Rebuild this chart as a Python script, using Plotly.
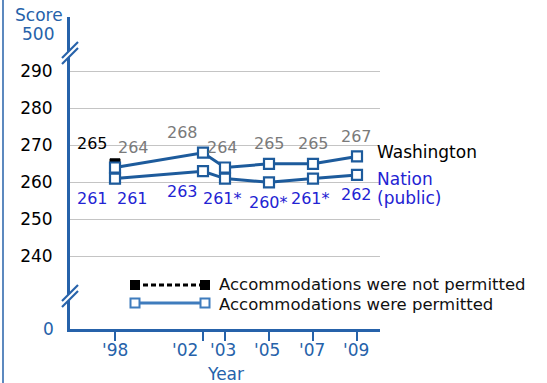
import plotly.graph_objects as go

# NAEP scores, Washington vs. Nation (public)
years = [1998, 2002, 2003, 2005, 2007, 2009]
year_labels = ["'98", "'02", "'03", "'05", "'07", "'09"]
wa_permitted = [264, 268, 264, 265, 265, 267]
nat_permitted = [261, 263, 261, 260, 261, 262]
# significance flags for the Nation series
nat_flags = ["", "", "*", "*", "*", ""]
# 1998 results where accommodations were not permitted
np_year = [1998]
wa_not_permitted = [265]
nat_not_permitted = [261]
y_ticks = [240, 250, 260, 270, 280, 290]

W, H = 547, 383
L, R, T, B = 70, 380, 17, 329          # plot area in pixels
FONT = "DejaVu Sans"
AXIS_BLUE = "#2662aa"
LINE_BLUE = "#1d5b9c"
NAT_TEXT = "#2323d3"
GREY_TEXT = "#7a7a7a"

X_RANGE = [1998 - (115 - L) / 22.0, 1998 - (115 - L) / 22.0 + (R - L) / 22.0]
Y_RANGE = [220.35, 304.68]


def px(x):
    return (x - L) / (R - L)


def py(y):
    return (B - y) / (B - T)


fig = go.Figure()

marker_open = dict(symbol="square", size=10, color="white",
                   line=dict(color=LINE_BLUE, width=2.2))
marker_black = dict(symbol="square", size=10, color="black",
                    line=dict(color="black", width=1))

# not-permitted points first so the permitted markers sit on top
for vals in (wa_not_permitted, nat_not_permitted):
    fig.add_trace(go.Scatter(x=np_year, y=vals, mode="markers",
                             marker=marker_black, showlegend=False,
                             cliponaxis=False, hoverinfo="skip"))

for vals in (wa_permitted, nat_permitted):
    fig.add_trace(go.Scatter(x=years, y=vals, mode="lines+markers",
                             line=dict(color=LINE_BLUE, width=3),
                             marker=marker_open, showlegend=False,
                             cliponaxis=False, hoverinfo="skip"))

annotations = []
label_font = dict(family=FONT, size=17)
value_font = dict(family=FONT, size=16)
legend_font = dict(family=FONT, size=16.5)


def note(x, y, text, color, xref="paper", yref="paper", xanchor="center",
         xshift=0, yshift=0, font=label_font):
    return dict(x=x, y=y, xref=xref, yref=yref, text=text, showarrow=False,
                xanchor=xanchor, yanchor="middle", xshift=xshift, yshift=yshift,
                font=dict(font, color=color))


# value labels above Washington, below Nation
wa_dx = [18, -21, -3, 0, 0, -1]
nat_dx = [17, -21, -3, -1, -3, -1]
for yr, v, dx in zip(years, wa_permitted, wa_dx):
    annotations.append(note(yr, v, str(v), GREY_TEXT, "x", "y",
                            xshift=dx, yshift=20, font=value_font))
for yr, v, f, dx in zip(years, nat_permitted, nat_flags, nat_dx):
    annotations.append(note(yr, v, f"{v}{f}", NAT_TEXT, "x", "y",
                            xshift=dx, yshift=-20, font=value_font))
annotations.append(note(np_year[0], wa_not_permitted[0], str(wa_not_permitted[0]),
                        "black", "x", "y", xshift=-23, yshift=20, font=value_font))
annotations.append(note(np_year[0], nat_not_permitted[0], str(nat_not_permitted[0]),
                        NAT_TEXT, "x", "y", xshift=-23, yshift=-20, font=value_font))

# series names at the right end
annotations.append(note(years[-1], wa_permitted[-1], "Washington", "black", "x", "y",
                        xanchor="left", xshift=18, yshift=4))
annotations.append(note(years[-1], nat_permitted[-1], "Nation", NAT_TEXT, "x", "y",
                        xanchor="left", xshift=18, yshift=-4))
annotations.append(note(years[-1], nat_permitted[-1], "(public)", NAT_TEXT, "x", "y",
                        xanchor="left", xshift=18, yshift=-23))

# year tick labels ('02 is nudged left of its tick to clear '03)
year_dx = [0, -18, -2, -2, -1, -1]
for yr, lab, dx in zip(years, year_labels, year_dx):
    annotations.append(note(yr, py(350), lab, AXIS_BLUE, "x", "paper", xshift=dx))

# axis captions and legend text
annotations += [
    note(px(39), py(15), "Score", AXIS_BLUE),
    note(px(56), py(34), "500", AXIS_BLUE, xanchor="right"),
    note(px(56), py(329), "0", AXIS_BLUE, xanchor="right"),
    note(px(225), py(374), "Year", AXIS_BLUE),
    note(px(217), py(284.5), "Accommodations were not permitted", "#111111",
         xanchor="left", font=legend_font),
    note(px(217), py(304.5), "Accommodations were permitted", "#111111",
         xanchor="left", font=legend_font),
]

# legend keys drawn on an overlay axis measured in pixels
fig.add_trace(go.Scatter(x=[135, 205], y=[285, 285], mode="lines+markers",
                         line=dict(color="black", width=3, dash="5px,3px"),
                         marker=dict(symbol="square", size=10, color="black"),
                         xaxis="x2", yaxis="y2", showlegend=False,
                         cliponaxis=False, hoverinfo="skip"))
fig.add_trace(go.Scatter(x=[135, 205], y=[303, 303], mode="lines+markers",
                         line=dict(color="#3f7cbd", width=3),
                         marker=dict(symbol="square", size=9, color="white",
                                     line=dict(color="#3f7cbd", width=2)),
                         xaxis="x2", yaxis="y2", showlegend=False,
                         cliponaxis=False, hoverinfo="skip"))

shapes = []
# left frame edge
shapes.append(dict(type="line", xref="paper", yref="paper",
                   x0=px(3), x1=px(3), y0=py(0), y1=py(H),
                   line=dict(color=AXIS_BLUE, width=1.5)))
# axis break marks
for cy in (53, 296):
    shapes.append(dict(type="line", xref="paper", yref="paper",
                       x0=px(L - 8), x1=px(L + 8), y0=py(cy + 8), y1=py(cy - 8),
                       line=dict(color="white", width=5)))
    for d in (-3, 3):
        shapes.append(dict(type="line", xref="paper", yref="paper",
                           x0=px(L - 8), x1=px(L + 8),
                           y0=py(cy + 8 + d), y1=py(cy - 8 + d),
                           line=dict(color=AXIS_BLUE, width=2.2)))

fig.update_layout(
    width=W, height=H,
    margin=dict(l=L, r=W - R, t=T, b=H - B, autoexpand=False),
    paper_bgcolor="white", plot_bgcolor="white",
    font=dict(family=FONT, size=17),
    showlegend=False,
    annotations=annotations,
    shapes=shapes,
    xaxis=dict(range=X_RANGE, tickvals=years, showticklabels=False,
               automargin=False, showgrid=False, zeroline=False,
               showline=True, linecolor=AXIS_BLUE, linewidth=3,
               ticks="outside", ticklen=9, tickwidth=2, tickcolor=AXIS_BLUE),
    yaxis=dict(range=Y_RANGE, tickvals=y_ticks,
               ticktext=[str(v) for v in y_ticks], automargin=False,
               showgrid=True, gridcolor="#c4c4c4", gridwidth=1,
               zeroline=False, showline=True, linecolor=AXIS_BLUE, linewidth=3,
               ticks="", ticklabelstandoff=11,
               tickfont=dict(family=FONT, size=17, color="black")),
    xaxis2=dict(range=[L, R], overlaying="x", visible=False, fixedrange=True),
    yaxis2=dict(range=[B, T], overlaying="y", visible=False, fixedrange=True),
)

fig.write_html("out.html")
